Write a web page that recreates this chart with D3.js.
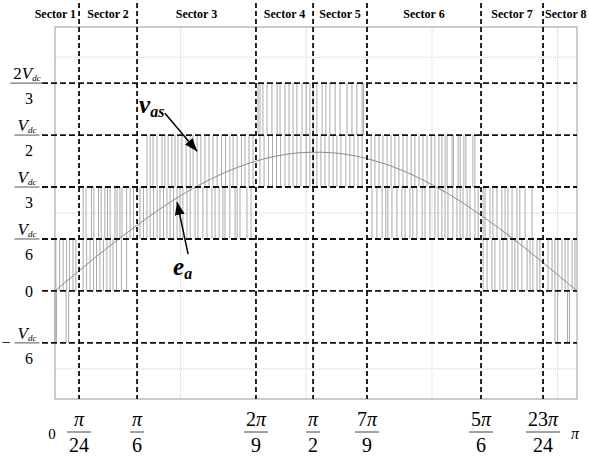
<!DOCTYPE html>
<html>
<head>
<meta charset="utf-8">
<script src="https://cdn.jsdelivr.net/npm/d3@7"></script>
</head>
<body style="margin:0;background:#fff">
<svg id="chart" width="589" height="456" style="display:block"></svg>
<script>
// angle in degrees (0..180), voltage in units of Vdc/6
const sectorBounds = [8.3, 28.3, 69.3, 89.0, 107.6, 146.9, 168.3];
const sectorNames = ["Sector 1", "Sector 2", "Sector 3", "Sector 4", "Sector 5", "Sector 6", "Sector 7", "Sector 8"];
const boundNum = ["π", "π", "2π", "π", "7π", "5π", "23π"];
const boundDen = ["24", "6", "9", "2", "9", "6", "24"];

const levels = [4, 3, 2, 1, 0, -1];
const levelCoef = ["2", "", "", "", "0", ""];
const levelDen = ["3", "2", "3", "6", "", "6"];
const levelSign = ["", "", "", "", "", "−"];

const gridX = [43.3, 86.6, 130.0, 173.3];
const gridY = [-1.5, 1.5, 4.5];

// reference voltage e_a
const eaAngle = [0, 9, 18, 27, 36, 45, 54, 63, 72, 81, 90, 99, 108, 117, 126, 135, 144, 153, 162, 171, 180];
const eaValue = [0, 0.42, 0.83, 1.21, 1.57, 1.89, 2.16, 2.38, 2.54, 2.64, 2.67, 2.64, 2.54, 2.38, 2.16, 1.89, 1.57, 1.21, 0.83, 0.42, 0];

// switching edges of v_as, grouped by the pair of levels it toggles between
const edgesM10 = [0.0, 0.5, 3.8, 4.7, 172.4, 173.3, 176.7, 177.4];
const edges01 = [0.3, 1.6, 2.8, 4.0, 5.0, 6.2, 7.2, 9.7, 10.9, 12.1, 13.3, 14.3, 15.5, 16.7, 17.9, 19.0, 20.0, 21.2, 22.9, 24.7,
  147.6, 149.0, 150.7, 151.7, 153.4, 154.5, 155.9, 157.6, 158.6, 159.6, 161.0, 162.8, 163.8, 164.8, 166.2, 167.2, 170.0, 171.4, 172.4, 173.4, 174.8, 175.9, 176.9, 178.3, 179.3];
const edges12 = [9.7, 10.7, 12.6, 13.4, 15.0, 15.9, 17.2, 18.1, 19.0, 20.7, 21.4, 22.4, 23.1, 24.7, 25.9, 27.1, 29.3, 30.5, 31.7, 32.8,
  34.0, 35.2, 36.2, 37.4, 38.6, 39.7, 40.9, 42.1, 43.1, 44.1, 45.5, 46.6, 48.3, 49.3, 51.0, 52.4, 54.1, 55.2, 56.6, 57.9, 58.6,
  60.3, 62.1, 62.8, 63.8, 66.2, 67.6,
  109.3, 111.0, 112.8, 114.1, 114.8, 116.2, 117.9, 119.6, 120.7, 122.4, 123.4, 124.8, 126.6, 127.6, 129.3, 131.0, 132.1, 133.4,
  134.5, 135.5, 137.2, 138.6, 139.7, 140.7, 142.1, 143.1, 144.8, 145.9, 147.6, 148.3, 150.0, 151.0, 152.4, 154.1, 155.2, 156.2,
  157.6, 159.3, 160.3, 162.1, 164.5];
const edges23 = [31.7, 32.8, 33.8, 35.2, 36.9, 37.9, 39.0, 40.3, 41.4, 42.4, 43.8, 45.2, 46.6, 47.6, 49.0, 50.3, 51.7, 53.1, 54.5,
  55.9, 57.4, 58.8, 60.3, 61.4, 62.8, 64.3, 65.5, 66.9, 68.3, 70.7, 72.1, 73.6, 75.0, 76.4, 77.8, 79.3, 80.7, 82.1, 83.4, 84.8,
  86.6, 87.9, 89.0, 90.3, 91.7, 93.1, 94.5, 95.9, 97.2, 98.6, 100.3, 101.7, 103.1, 104.5, 105.9, 109.0, 110.3, 111.7, 113.1,
  114.5, 115.9, 117.2, 118.6, 120.0, 121.4, 122.8, 124.1, 125.5, 126.9, 128.3, 129.7, 131.0, 132.4, 133.4, 134.5, 135.2, 136.9,
  137.4, 139.0, 139.7, 141.0, 141.7, 144.1, 144.8];
const edges34 = [70.0, 70.7, 71.7, 73.1, 74.8, 76.6, 77.6, 79.3, 80.7, 82.1, 83.4, 85.2, 86.6, 87.9, 89.0, 90.3, 92.1, 93.4, 94.8,
  96.6, 98.3, 100.7, 102.4, 104.1, 105.9, 106.4];

const bands = [
  { lo: -1, edges: edgesM10 },
  { lo: 0, edges: edges01 },
  { lo: 1, edges: edges12 },
  { lo: 2, edges: edges23 },
  { lo: 3, edges: edges34 },
];

const FONT = "Liberation Serif";
const svg = d3.select("#chart");
const x = d3.scaleLinear().domain([0, 180]).range([55, 577]);
const y = d3.scaleLinear().domain([-2.08, 5.08]).range([399, 27]);

const addText = (parent, size) =>
  parent.append("text")
    .attr("font-family", FONT)
    .style("font-family", `"${FONT}"`)
    .style("font-size", `${size}px`);

// dotted grid
svg.append("g")
  .selectAll("line")
  .data(gridX)
  .join("line")
  .attr("x1", d => x(d)).attr("x2", d => x(d))
  .attr("y1", y.range()[1]).attr("y2", y.range()[0])
  .attr("stroke", "#c4c4c4").attr("stroke-width", 0.8).attr("stroke-dasharray", "1,1");
svg.append("g")
  .selectAll("line")
  .data(gridY)
  .join("line")
  .attr("x1", x.range()[0]).attr("x2", x.range()[1])
  .attr("y1", d => y(d)).attr("y2", d => y(d))
  .attr("stroke", "#c4c4c4").attr("stroke-width", 0.8).attr("stroke-dasharray", "1,1");

// frame
svg.append("rect")
  .attr("x", x.range()[0]).attr("y", y.range()[1])
  .attr("width", x.range()[1] - x.range()[0])
  .attr("height", y.range()[0] - y.range()[1])
  .attr("fill", "none").attr("stroke", "#999").attr("stroke-width", 1);

// v_as pulses
const pulseColor = "#ababab";
const pulses = svg.append("g");
bands.forEach(b => {
  pulses.append("g")
    .selectAll("line")
    .data(b.edges)
    .join("line")
    .attr("x1", d => x(d)).attr("x2", d => x(d))
    .attr("y1", y(b.lo)).attr("y2", y(b.lo + 1))
    .attr("stroke", pulseColor).attr("stroke-width", 1);
});

// e_a
svg.append("path")
  .datum(d3.zip(eaAngle, eaValue))
  .attr("d", d3.line().x(d => x(d[0])).y(d => y(d[1])).curve(d3.curveCardinal))
  .attr("fill", "none").attr("stroke", "#8a8a8a").attr("stroke-width", 1);

// dashed level lines
svg.append("g")
  .selectAll("line")
  .data(levels)
  .join("line")
  .attr("x1", 42).attr("x2", x.range()[1])
  .attr("y1", d => y(d)).attr("y2", d => y(d))
  .attr("stroke", "#111").attr("stroke-width", 1.8).attr("stroke-dasharray", "6,3");

// dashed sector boundaries
svg.append("g")
  .selectAll("line")
  .data(sectorBounds)
  .join("line")
  .attr("x1", d => x(d)).attr("x2", d => x(d))
  .attr("y1", 3).attr("y2", y.range()[0])
  .attr("stroke", "#111").attr("stroke-width", 1.8).attr("stroke-dasharray", "5,3");

// sector names
const edges = [0, ...sectorBounds, 180];
sectorNames.forEach((name, i) => {
  const cx = i === 0 ? x(edges[1]) - 3 : i === 7 ? x(edges[7]) + 2 : (x(edges[i]) + x(edges[i + 1])) / 2;
  addText(svg, 12)
    .attr("x", cx).attr("y", 18)
    .attr("text-anchor", i === 0 ? "end" : i === 7 ? "start" : "middle")
    .style("font-weight", "bold")
    .text(name);
});

// y labels
levels.forEach((lv, i) => {
  const yy = y(lv);
  if (levelCoef[i] === "0") {
    addText(svg, 16).attr("x", 29).attr("y", yy + 6).attr("text-anchor", "middle").text("0");
    return;
  }
  const num = addText(svg, 17).attr("x", 27).attr("y", yy - 4).attr("text-anchor", "middle");
  if (levelCoef[i]) num.append("tspan").text(levelCoef[i]);
  num.append("tspan").style("font-style", "italic").text("V");
  num.append("tspan").style("font-style", "italic").style("font-size", "9px").attr("dy", 2).text("dc");
  const w = num.node().getComputedTextLength();
  svg.append("line")
    .attr("x1", 27 - w / 2 - 3).attr("x2", 27 + w / 2 + 3)
    .attr("y1", yy).attr("y2", yy)
    .attr("stroke", "#555").attr("stroke-width", 1);
  addText(svg, 16).attr("x", 29).attr("y", yy + 21).attr("text-anchor", "middle").text(levelDen[i]);
  if (levelSign[i]) {
    addText(svg, 16).attr("x", 6).attr("y", yy + 5).attr("text-anchor", "middle").text(levelSign[i]);
  }
});

// x labels
const xl = svg.append("g");
sectorBounds.forEach((b, i) => {
  const cx = x(b);
  const m = boundNum[i].match(/^(\d*)(π)$/);
  const num = addText(xl, 20).attr("x", cx).attr("y", 426).attr("text-anchor", "middle");
  if (m[1]) num.append("tspan").text(m[1]);
  num.append("tspan").style("font-style", "italic").text(m[2]);
  const den = addText(xl, 20).attr("x", cx).attr("y", 452).attr("text-anchor", "middle").text(boundDen[i]);
  const w = Math.max(num.node().getComputedTextLength(), den.node().getComputedTextLength());
  xl.append("line")
    .attr("x1", cx - w / 2 - 2).attr("x2", cx + w / 2 + 2)
    .attr("y1", 432).attr("y2", 432)
    .attr("stroke", "#444").attr("stroke-width", 1);
});
addText(xl, 15).attr("x", x(0) - 3).attr("y", 439).attr("text-anchor", "middle").text("0");
addText(xl, 16).attr("x", x(180) - 2).attr("y", 439).attr("text-anchor", "middle")
  .style("font-style", "italic").text("π");

// annotations
svg.append("defs").append("marker")
  .attr("id", "arrow")
  .attr("viewBox", "0 0 13 10")
  .attr("refX", 13).attr("refY", 5)
  .attr("markerWidth", 13).attr("markerHeight", 10)
  .attr("markerUnits", "userSpaceOnUse")
  .attr("orient", "auto")
  .append("path").attr("d", "M0,0 L13,5 L0,10 z").attr("fill", "#000");

const arrows = [
  { from: [37.9, 3.42], to: [49.0, 2.69] },
  { from: [45.9, 0.71], to: [42.1, 1.71] },
];
svg.append("g")
  .selectAll("line")
  .data(arrows)
  .join("line")
  .attr("x1", d => x(d.from[0])).attr("y1", d => y(d.from[1]))
  .attr("x2", d => x(d.to[0])).attr("y2", d => y(d.to[1]))
  .attr("stroke", "#000").attr("stroke-width", 1.5)
  .attr("marker-end", "url(#arrow)");

const notes = [
  { at: [29.0, 3.42], main: "v", sub: "as" },
  { at: [40.7, 0.31], main: "e", sub: "a" },
];
notes.forEach(n => {
  const t = addText(svg, 25)
    .attr("x", x(n.at[0])).attr("y", y(n.at[1]))
    .style("font-weight", "bold").style("font-style", "italic");
  t.append("tspan").text(n.main);
  t.append("tspan").attr("dy", 4).style("font-size", "16px").text(n.sub);
});
</script>
</body>
</html>
